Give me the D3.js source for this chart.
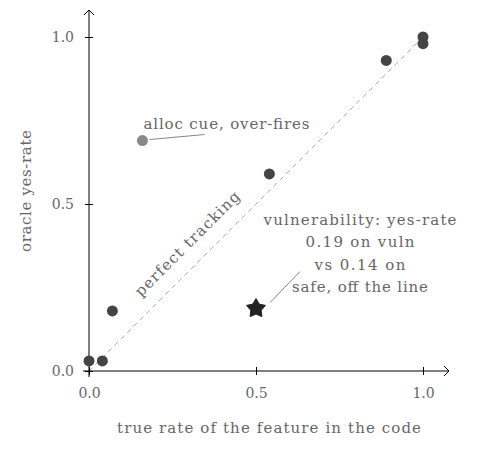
<!DOCTYPE html>
<html>
<head>
<meta charset="utf-8">
<script src="https://cdn.jsdelivr.net/npm/d3@7"></script>
<style>
  body { margin: 0; background: #fff; }
  text { font-family: "DejaVu Serif", serif; fill: #666; }
</style>
</head>
<body>
<div id="chart"></div>
<script>
// feature true rate vs oracle yes-rate
var trueRate = [0.0, 0.04, 0.07, 0.54, 0.89, 1.0, 1.0];
var yesRate  = [0.03, 0.03, 0.18, 0.59, 0.93, 1.0, 0.98];
var allocPoint = [0.16, 0.69];
var vulnPoint = [0.5, 0.19];
var tickValues = [0.0, 0.5, 1.0];
var vulnLines = ["vulnerability: yes-rate", "0.19 on vuln", "vs 0.14 on", "safe, off the line"];
var vulnWidths = [193, 109, 91, 136];

var WIDTH = 486, HEIGHT = 450;

var svg = d3.select("#chart").append("svg")
  .attr("width", WIDTH)
  .attr("height", HEIGHT);

var x = d3.scaleLinear().domain([0, 1]).range([89, 423]);
var y = d3.scaleLinear().domain([0, 1]).range([371, 37]);

// perfect tracking diagonal
svg.append("line")
  .attr("x1", x(0)).attr("y1", y(0))
  .attr("x2", x(1)).attr("y2", y(1))
  .attr("stroke", "#999")
  .attr("stroke-width", 0.8)
  .attr("stroke-dasharray", "5,4");

// axes
var xAxis = d3.axisBottom(x).tickValues(tickValues).tickFormat(d3.format(".1f"))
  .tickSizeInner(4).tickSizeOuter(0);
var yAxis = d3.axisLeft(y).tickValues(tickValues).tickFormat(d3.format(".1f"))
  .tickSizeInner(4).tickSizeOuter(0);

var gx = svg.append("g").attr("transform", "translate(0," + y(0) + ")").call(xAxis);
var gy = svg.append("g").attr("transform", "translate(" + x(0) + ",0)").call(yAxis);

[gx, gy].forEach(function (g) {
  g.select(".domain").remove();
  g.selectAll(".tick line").attr("stroke", "#000").attr("stroke-width", 1);
  g.selectAll(".tick text").attr("font-family", "DejaVu Serif").attr("font-size", 14).attr("fill", "#666");
});
// ticks cross the axis
gx.selectAll(".tick line").attr("y1", -4).attr("y2", 4);
gx.selectAll(".tick text").attr("y", 17);
gy.selectAll(".tick line").attr("x1", -4).attr("x2", 4);
gy.selectAll(".tick text").attr("x", -15);

// axis lines with arrow heads
svg.append("line").attr("x1", 83).attr("y1", y(0)).attr("x2", 449).attr("y2", y(0))
  .attr("stroke", "#000").attr("stroke-width", 1);
svg.append("path").attr("d", "M444,366 L449," + y(0) + " L444,376")
  .attr("fill", "none").attr("stroke", "#000").attr("stroke-width", 1);
svg.append("line").attr("x1", x(0)).attr("y1", 377).attr("x2", x(0)).attr("y2", 10)
  .attr("stroke", "#000").attr("stroke-width", 1);
svg.append("path").attr("d", "M84,15 L" + x(0) + ",10 L94,15")
  .attr("fill", "none").attr("stroke", "#000").attr("stroke-width", 1);

// axis titles
svg.append("text")
  .attr("x", 269).attr("y", 433)
  .attr("text-anchor", "middle")
  .attr("font-size", 15)
  .attr("textLength", 304).attr("lengthAdjust", "spacing")
  .text("true rate of the feature in the code");

svg.append("text")
  .attr("transform", "translate(31,191) rotate(-90)")
  .attr("text-anchor", "middle")
  .attr("font-size", 15)
  .attr("textLength", 122).attr("lengthAdjust", "spacing")
  .text("oracle yes-rate");

// diagonal label
svg.append("text")
  .attr("transform", "translate(" + x(0.305) + "," + y(0.37) + ") rotate(-45)")
  .attr("text-anchor", "middle")
  .attr("font-size", 15)
  .attr("textLength", 141).attr("lengthAdjust", "spacing")
  .text("perfect tracking");

// points
svg.selectAll("circle.pt")
  .data(d3.zip(trueRate, yesRate))
  .enter().append("circle")
  .attr("class", "pt")
  .attr("cx", function (d) { return x(d[0]); })
  .attr("cy", function (d) { return y(d[1]); })
  .attr("r", 5.5)
  .attr("fill", "#444");

// alloc cue point + annotation
svg.append("line")
  .attr("x1", x(allocPoint[0]) + 7).attr("y1", y(allocPoint[1]) - 1)
  .attr("x2", x(allocPoint[0]) + 62).attr("y2", y(allocPoint[1]) - 6)
  .attr("stroke", "#666").attr("stroke-width", 0.8);
svg.append("circle")
  .attr("cx", x(allocPoint[0])).attr("cy", y(allocPoint[1]))
  .attr("r", 5.5).attr("fill", "#888");
svg.append("text")
  .attr("x", x(allocPoint[0]) + 1).attr("y", y(allocPoint[1]) - 12)
  .attr("font-size", 15)
  .attr("textLength", 166).attr("lengthAdjust", "spacing")
  .text("alloc cue, over-fires");

// fat five-point star (tikz style)
var fatStar = {
  draw: function (ctx, size) {
    var R = Math.sqrt(size) / 1.6, r = R * 0.55;
    for (var i = 0; i < 10; i++) {
      var rad = i % 2 ? r : R, a = -Math.PI / 2 + i * Math.PI / 5;
      if (i === 0) ctx.moveTo(rad * Math.cos(a), rad * Math.sin(a));
      else ctx.lineTo(rad * Math.cos(a), rad * Math.sin(a));
    }
    ctx.closePath();
  }
};

// vulnerability star + annotation
svg.append("path")
  .attr("d", d3.symbol().type(fatStar).size(256)())
  .attr("transform", "translate(" + x(vulnPoint[0]) + "," + (y(vulnPoint[1]) + 1) + ")")
  .attr("fill", "#222")
  .attr("stroke", "#222")
  .attr("stroke-width", 1)
  .attr("stroke-linejoin", "round");
svg.append("line")
  .attr("x1", x(vulnPoint[0]) + 14).attr("y1", y(vulnPoint[1]) - 5)
  .attr("x2", x(vulnPoint[0]) + 44).attr("y2", y(vulnPoint[1]) - 36)
  .attr("stroke", "#666").attr("stroke-width", 0.8);
svg.append("g").selectAll("text")
  .data(vulnLines)
  .enter().append("text")
  .attr("x", 360)
  .attr("y", function (d, i) { return 225 + i * 22.3; })
  .attr("text-anchor", "middle")
  .attr("font-size", 15)
  .attr("textLength", function (d, i) { return vulnWidths[i]; })
  .attr("lengthAdjust", "spacing")
  .text(function (d) { return d; });
</script>
</body>
</html>
